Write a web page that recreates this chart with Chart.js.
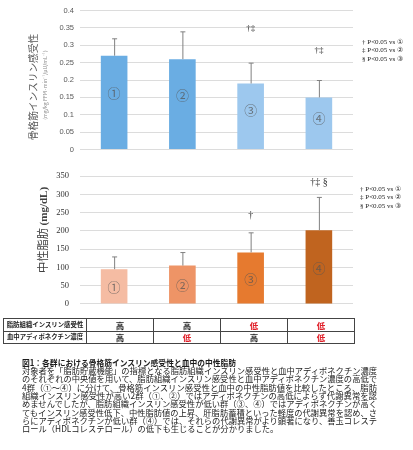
<!DOCTYPE html>
<html>
<head>
<meta charset="utf-8">
<script src="https://cdn.jsdelivr.net/npm/chart.js@4"></script>
<style>
  body { margin: 0; background: #fff; }
  #wrap { position: relative; width: 413px; height: 450px; overflow: hidden; font-family: "Noto Sans CJK JP", sans-serif; }
  canvas { position: absolute; left: 0; }
  .rot { position: absolute; text-align: center; white-space: nowrap; transform: rotate(-90deg); }
  .legend { position: absolute; font-family: "Liberation Serif", serif; font-size: 7px; color: #222; line-height: 8.5px; white-space: nowrap; }
  table { position: absolute; left: 3px; top: 318px; border-collapse: collapse; }
  td { border: 1px solid #444; height: 11.5px; padding: 0; text-align: center; font-weight: bold; font-size: 8.5px; line-height: 10px; color: #222; }
  td.lab { font-size: 6.4px; width: 82px; }
  td.v { width: 66px; }
  .red { color: #e0202a; }
  #cap { position: absolute; left: 22px; top: 357.8px; color: #1c1c1c; }
  #cap div { font-size: 8.4px; line-height: 8.3px; height: 8.3px; white-space: nowrap; transform-origin: 0 50%; width: max-content; }
  #cap div.t { font-weight: bold; }
</style>
</head>
<body>
<div id="wrap">
  <canvas id="c1" width="413" height="160" style="top:0"></canvas>
  <canvas id="c2" width="413" height="160" style="top:160px"></canvas>

  <div class="rot" style="left:-42px; top:81px; width:150px; height:12px; font-size:9.7px; line-height:12px; color:#595959;">骨格筋インスリン感受性</div>
  <div class="rot" style="left:-30px; top:82px; width:150px; height:6px; font-size:5.2px; line-height:6px; color:#8a8a8a;">(mg/kg FFM·min⁻¹/μU/mL⁻¹)</div>
  <div class="rot" style="left:-33px; top:223px; width:150px; height:14px; font-size:11.3px; line-height:14px; color:#404040;">中性脂肪 <span style="font-family:'Liberation Serif',serif; font-weight:bold; font-size:11px;">(mg/dL)</span></div>

  <div class="legend" style="left:362px; top:37.5px;">† P&lt;0.05 vs ①<br>‡ P&lt;0.05 vs ②<br>§ P&lt;0.05 vs ③</div>
  <div class="legend" style="left:360px; top:184.5px;">† P&lt;0.05 vs ①<br>‡ P&lt;0.05 vs ②<br>§ P&lt;0.05 vs ③</div>

  <table>
    <tr><td class="lab">脂肪組織インスリン感受性</td><td class="v">高</td><td class="v">高</td><td class="v red">低</td><td class="v red">低</td></tr>
    <tr><td class="lab">血中アディポネクチン濃度</td><td class="v">高</td><td class="v red">低</td><td class="v">高</td><td class="v red">低</td></tr>
  </table>

  <div id="cap">
    <div class="t">図1：各群における骨格筋インスリン感受性と血中の中性脂肪</div>
    <div>対象者を「脂肪貯蔵機能」の指標となる脂肪組織インスリン感受性と血中アディポネクチン濃度</div>
    <div>のそれぞれの中央値を用いて、脂肪組織インスリン感受性と血中アディポネクチン濃度の高低で</div>
    <div>4群（①～④）に分けて、骨格筋インスリン感受性と血中の中性脂肪値を比較したところ、脂肪</div>
    <div>組織インスリン感受性が高い2群（①、②）ではアディポネクチンの高低によらず代謝異常を認</div>
    <div>めませんでしたが、脂肪組織インスリン感受性が低い群（③、④）ではアディポネクチンが高く</div>
    <div>てもインスリン感受性低下、中性脂肪値の上昇、肝脂肪蓄積といった軽度の代謝異常を認め、さ</div>
    <div>らにアディポネクチンが低い群（④）では、それらの代謝異常がより顕著になり、善玉コレステ</div>
    <div>ロール（HDLコレステロール）の低下も生じることが分かりました。</div>
  </div>
</div>

<script>
// groups
const groups = ['①', '②', '③', '④'];

// skeletal muscle insulin sensitivity
const insulinMean = [0.27, 0.26, 0.19, 0.15];
const insulinUpper = [0.32, 0.34, 0.25, 0.20];   // mean + SD
const insulinMarks = ['', '', '†‡', '†‡'];
const insulinMarkAt = [null, null, 0.348, 0.284];
const insulinColors = ['#6aade3', '#6aade3', '#9dc8ee', '#9dc8ee'];

// triglycerides
const tgMean = [95, 105, 141, 202];
const tgUpper = [130, 142, 196, 293];
const tgMarks = ['', '', '†', '†‡ §'];
const tgMarkAt = [null, null, 243, 333];
const tgColors = ['#f5bca3', '#ee9466', '#e67a2f', '#c0641f'];

// justify caption lines to the widths seen in the figure
(function fitCaption() {
  const lines = document.querySelectorAll('#cap div');
  const s = 355 / lines[1].getBoundingClientRect().width;
  lines.forEach((el, i) => {
    const w = el.getBoundingClientRect().width;
    let k = s;
    if (i === 0) k = 214 / w;
    else if (i < lines.length - 1) k = 355 / w;
    el.style.transform = 'scaleX(' + k + ')';
  });
})();

// draws error whiskers, significance marks and the circled group numbers
const extrasPlugin = {
  id: 'extras',
  afterDatasetsDraw(chart, args, opts) {
    const ctx = chart.ctx;
    const y = chart.scales.y;
    const meta = chart.getDatasetMeta(0);
    const vals = chart.data.datasets[0].data;
    ctx.save();
    meta.data.forEach((bar, i) => {
      const x = bar.x;
      // whisker
      const yTop = y.getPixelForValue(opts.upper[i]);
      const yBar = y.getPixelForValue(vals[i]);
      ctx.strokeStyle = '#808080';
      ctx.lineWidth = 1;
      ctx.beginPath();
      ctx.moveTo(x + 0.5, yBar);
      ctx.lineTo(x + 0.5, yTop + 0.5);
      ctx.moveTo(x - 2, yTop + 0.5);
      ctx.lineTo(x + 3, yTop + 0.5);
      ctx.stroke();
      // group number inside the bar
      ctx.fillStyle = 'rgba(85,85,85,0.75)';
      ctx.font = '13px "Noto Sans CJK JP"';
      ctx.textAlign = 'center';
      ctx.textBaseline = 'middle';
      ctx.fillText(groups[i], x, y.getPixelForValue(vals[i] * opts.labelFrac));
      // significance marks
      if (opts.marks[i]) {
        ctx.fillStyle = '#333';
        ctx.font = opts.markFont;
        ctx.fillText(opts.marks[i], x, y.getPixelForValue(opts.markAt[i]));
      }
    });
    ctx.restore();
  }
};

function makeChart(id, values, colors, yOpts, pad, extras) {
  return new Chart(document.getElementById(id), {
    type: 'bar',
    data: {
      labels: groups,
      datasets: [{
        data: values,
        backgroundColor: colors,
        borderWidth: 0,
        categoryPercentage: 1,
        barPercentage: 0.39
      }]
    },
    options: {
      responsive: false,
      animation: false,
      layout: { padding: pad },
      plugins: { legend: { display: false }, tooltip: { enabled: false }, extras: extras },
      scales: {
        x: { display: false },
        y: Object.assign({
          afterFit: s => { s.width = 80; },
          border: { display: false },
          grid: { color: '#dcdcdc', drawTicks: false }
        }, yOpts)
      }
    },
    plugins: [extrasPlugin]
  });
}

makeChart('c1', insulinMean, insulinColors, {
  min: 0, max: 0.4,
  ticks: {
    stepSize: 0.05, padding: 6, color: '#595959', font: { family: 'Liberation Sans', size: 7.5 },
    callback: v => String(+v.toFixed(2))
  }
}, { left: 0, right: 60, top: 8, bottom: 7 }, {
  upper: insulinUpper, marks: insulinMarks, markAt: insulinMarkAt, labelFrac: 0.6,
  markFont: '9px "Liberation Serif"'
});

makeChart('c2', tgMean, tgColors, {
  min: 0, max: 350,
  ticks: { stepSize: 50, padding: 11, color: '#333', font: { family: 'Liberation Serif', size: 8.5 } }
}, { left: 0, right: 60, top: 10.7, bottom: 10 }, {
  upper: tgUpper, marks: tgMarks, markAt: tgMarkAt, labelFrac: 0.48,
  markFont: '10px "Liberation Serif"'
});
</script>
</body>
</html>
